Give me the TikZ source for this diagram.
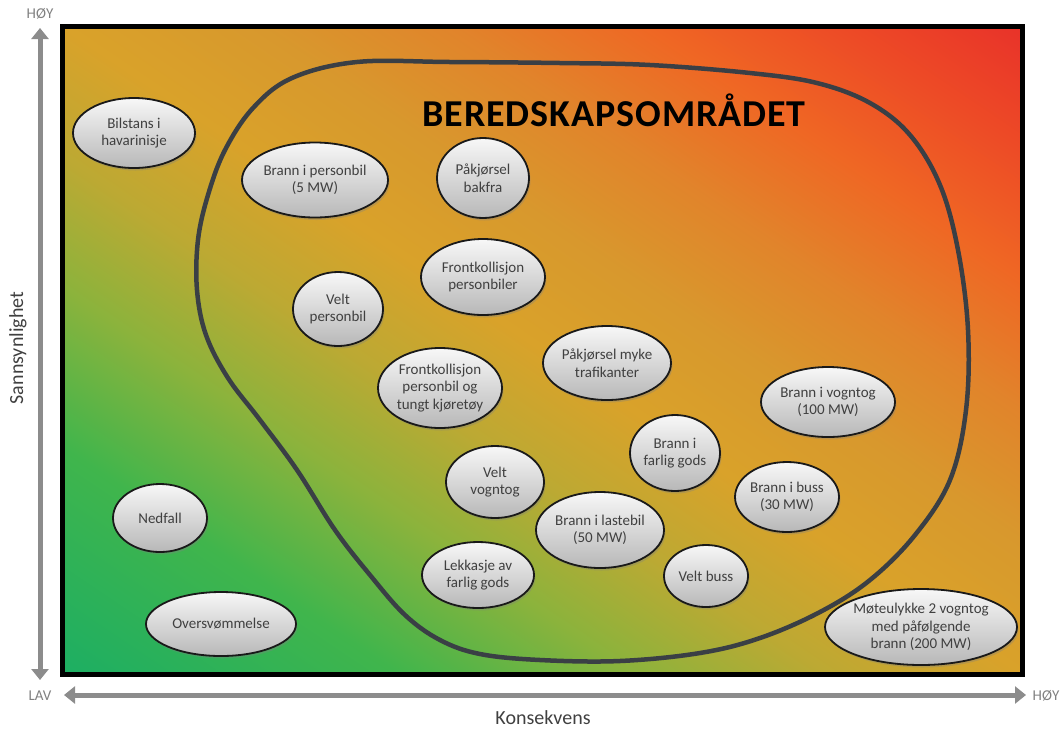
\documentclass[tikz,border=0pt]{standalone}
\usepackage{fontspec}
\setmainfont{Carlito}
\usetikzlibrary{shapes.geometric}
\usetikzlibrary{shadows}
\usetikzlibrary{arrows.meta}
\definecolor{rgronn}{HTML}{1BAE64}
\definecolor{rgronn2}{HTML}{40B54C}
\definecolor{rolive}{HTML}{8BB33C}
\definecolor{rgul1}{HTML}{BCA933}
\definecolor{rgul}{HTML}{D9A22A}
\definecolor{ror1}{HTML}{D8982D}
\definecolor{ror2}{HTML}{E1842B}
\definecolor{ror3}{HTML}{EF6724}
\definecolor{rrod1}{HTML}{ED4A26}
\definecolor{rrod}{HTML}{E8302A}
\definecolor{blobfarge}{HTML}{3A3F45}
\definecolor{aksefarge}{HTML}{8C8C8C}
\pgfdeclarehorizontalshading{risiko}{100bp}{color(0bp)=(rgronn); color(14.6bp)=(rgronn);
  color(27.4bp)=(rgronn2); color(35.9bp)=(rolive); color(42.9bp)=(rgul1);
  color(50bp)=(rgul); color(57.1bp)=(ror1); color(64.1bp)=(ror2);
  color(71.2bp)=(ror3); color(78.3bp)=(rrod1); color(85.4bp)=(rrod); color(100bp)=(rrod)}

\begin{document}
\begin{tikzpicture}[x=1pt,y=-1pt,
		hendelse/.style={ellipse,draw=black!90,line width=1.8pt,top color=black!3,bottom color=black!28,
			text=black!75,align=center,inner xsep=-6pt,inner ysep=0pt,
			font=\fontsize{15}{17.5}\selectfont,
			drop shadow={shadow xshift=1.5pt,shadow yshift=-2.5pt,opacity=0.35}},
		akse/.style={draw=aksefarge,line width=5pt,{Triangle[width=17pt,length=11pt]}-{Triangle[width=17pt,length=11pt]}},
		akselabel/.style={text=black!50,font=\fontsize{15}{18}\selectfont,inner sep=0pt},
		aksetittel/.style={text=black!75,font=\fontsize{20}{24}\selectfont,inner sep=0pt}
		]
		\useasboundingbox (0,0) rectangle (1062,729);
		\shade[shading=risiko,shading angle=56] (62,26) rectangle (1022,674);
		\draw[line width=5pt] (62,26) rectangle (1022,674);
		\draw[blobfarge,line width=4.5pt] plot[smooth cycle,tension=0.6] coordinates {
			(357,62) (450,62) (560,63) (650,65) (750,73) (817,83) (870,103) (910,135) (940,185)
			(958,250) (968,330) (966,410) (950,480) (915,535) (870,580) (820,612) (760,638)
			(700,653) (620,661) (540,660) (480,654) (440,640) (405,615) (370,575) (335,530)
			(297,470) (260,420) (228,378) (206,335) (197,290) (198,240) (208,195) (225,150)
			(253,108) (292,78)};
		\node (tittel) at (614,110) {\fontsize{38}{40}\selectfont\bfseries\addfontfeatures{LetterSpace=2.5}BEREDSKAPSOMRÅDET};
		% hendelser
		\node[hendelse,minimum width=122pt,minimum height=70pt] (bilstans) at (134,133) {Bilstans i\\havarinisje};
		\node[hendelse,minimum width=146pt,minimum height=75pt] (personbil) at (315,180) {Brann i personbil\\(5 MW)};
		\node[hendelse,minimum width=92pt,minimum height=80pt] (bakfra) at (483,178) {Påkjørsel\\bakfra};
		\node[hendelse,minimum width=124pt,minimum height=76pt] (frontpb) at (483,277) {Frontkollisjon\\personbiler};
		\node[hendelse,minimum width=90pt,minimum height=74pt] (veltpb) at (338,309) {Velt\\personbil};
		\node[hendelse,minimum width=124pt,minimum height=80pt] (fronttk) at (440,388) {Frontkollisjon\\personbil og\\tungt kjøretøy};
		\node[hendelse,minimum width=128pt,minimum height=74pt] (myke) at (607,363) {Påkjørsel myke\\trafikanter};
		\node[hendelse,minimum width=134pt,minimum height=70pt] (vogntog) at (828,402) {Brann i vogntog\\(100 MW)};
		\node[hendelse,minimum width=90pt,minimum height=76pt] (farlig) at (675,453) {Brann i\\farlig gods};
		\node[hendelse,minimum width=98pt,minimum height=72pt] (veltvt) at (495,482) {Velt\\vogntog};
		\node[hendelse,minimum width=104pt,minimum height=70pt] (buss) at (787,497) {Brann i buss\\(30 MW)};
		\node[hendelse,minimum width=128pt,minimum height=76pt] (lastebil) at (600,530) {Brann i lastebil\\(50 MW)};
		\node[hendelse,minimum width=112pt,minimum height=66pt] (lekkasje) at (478,575) {Lekkasje av\\farlig gods};
		\node[hendelse,minimum width=84pt,minimum height=62pt] (veltbuss) at (706,576) {Velt buss};
		\node[hendelse,minimum width=94pt,minimum height=68pt] (nedfall) at (160,518) {Nedfall};
		\node[hendelse,minimum width=150pt,minimum height=64pt] (flom) at (221,624) {Oversvømmelse};
		\node[hendelse,minimum width=192pt,minimum height=76pt] (moteulykke) at (921,627) {Møteulykke 2 vogntog\\med påfølgende\\brann (200 MW)};
		% akser
		\coordinate (ybunn) at (40,680);
		\coordinate (ytopp) at (40,28);
		\coordinate (xvenstre) at (64,695);
		\coordinate (xhoyre) at (1026,695);
		\draw[akse] (ybunn) -- (ytopp);
		\draw[akse] (xvenstre) -- (xhoyre);
		\node[akselabel] (hoyy) at (40,14) {HØY};
		\node[akselabel] (lav) at (40,696) {LAV};
		\node[akselabel] (hoyx) at (1046,696) {HØY};
		\node[aksetittel] (konsekvens) at (543,718) {Konsekvens};
		\node[aksetittel,rotate=90] (sannsynlighet) at (18,348) {Sannsynlighet};
\end{tikzpicture}
\end{document}
